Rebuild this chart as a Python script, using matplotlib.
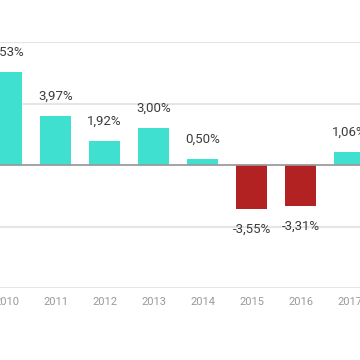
import matplotlib.pyplot as plt

# annual growth (%), visible part of the chart
years = ['2010', '2011', '2012', '2013', '2014', '2015', '2016', '2017']
growth = [7.53, 3.97, 1.92, 3.00, 0.50, -3.55, -3.31, 1.06]
labels = ['7,53%', '3,97%', '1,92%', '3,00%', '0,50%', '-3,55%', '-3,31%', '1,06%']

plt.rcParams['font.family'] = ['Roboto', 'DejaVu Sans']

fig = plt.figure(figsize=(3.6, 3.6), dpi=100)
ax = fig.add_axes([0, 0.2, 1, 0.6833])

x = list(range(len(years)))
colors = ['#40e0d0' if v >= 0 else '#b22222' for v in growth]
ax.bar(x, growth, width=0.65, color=colors, zorder=3)

for xi, v, lab in zip(x, growth, labels):
    off = 9.5 if v >= 0 else -10
    ax.annotate(lab, (xi, v), xytext=(0, off), textcoords='offset points',
                ha='center', va='bottom' if v >= 0 else 'top',
                fontsize=9.5, color='#3c3c3c')

ax.set_ylim(-10, 10)
ax.set_xlim(-0.133, 7.214)
ax.set_yticks([-10, -5, 0, 5, 10])
ax.grid(axis='y', color='#e6e6e6', linewidth=1.5, zorder=0)
ax.axhline(0, color='#999999', linewidth=1.2, zorder=4)
ax.tick_params(axis='y', left=False, labelleft=False)
ax.tick_params(axis='x', bottom=False, labelsize=8, labelcolor='#999999', pad=3)
ax.set_xticks(x)
ax.set_xticklabels(years)
for s in ax.spines.values():
    s.set_visible(False)

fig.savefig('out.png', dpi=100)
